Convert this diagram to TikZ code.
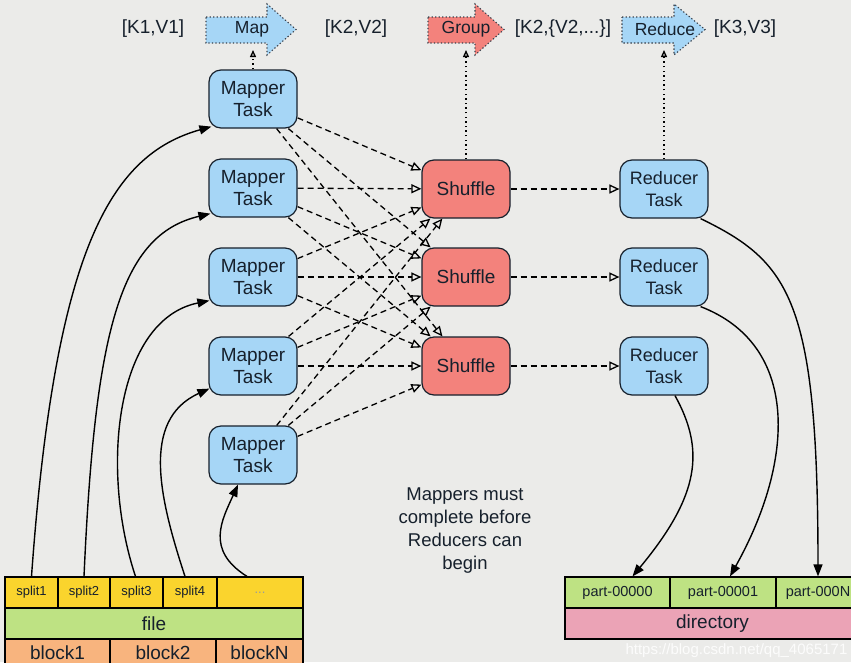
\documentclass[tikz,border=0pt]{standalone}
\usepackage{fontspec}
\setmainfont{Liberation Sans}
\usetikzlibrary{arrows.meta}

\definecolor{bg}{RGB}{235,235,233}
\definecolor{taskblue}{RGB}{166,214,246}
\definecolor{shufred}{RGB}{243,130,124}
\definecolor{ink}{RGB}{22,32,44}
\definecolor{splitgold}{RGB}{250,212,45}
\definecolor{filegreen}{RGB}{190,226,131}
\definecolor{blockpeach}{RGB}{248,180,126}
\definecolor{dirpink}{RGB}{235,163,182}

\tikzset{
  task/.style={draw=ink, line width=1.2pt, rounded corners=12pt,
    minimum width=88pt, minimum height=58pt, inner sep=0pt,
    align=center, text=ink, font=\fontsize{19}{22}\selectfont},
  mapper/.style={task, fill=taskblue},
  shuffle/.style={task, fill=shufred},
  reducer/.style={task, fill=taskblue, font=\fontsize{18}{22}\selectfont},
  cell/.style={draw=black, line width=1.2pt, inner sep=0pt,
    minimum height=31pt, text=ink},
  splitcell/.style={cell, fill=splitgold, font=\fontsize{13}{13}\selectfont},
  partcell/.style={cell, fill=filegreen, font=\fontsize{14.5}{14.5}\selectfont},
  bigcell/.style={cell, font=\fontsize{19}{19}\selectfont},
  kv/.style={text=ink, font=\fontsize{19}{19}\selectfont},
  phase/.style={draw=ink!85, line width=1.1pt, dash pattern=on 1.3pt off 2.2pt},
  phaselbl/.style={text=ink, font=\fontsize{17.5}{17.5}\selectfont},
  shuf/.style={line width=1.3pt, dash pattern=on 6pt off 4pt,
    -{Triangle[open, length=10pt, width=9pt]}},
  dotlink/.style={line width=1.3pt, dash pattern=on 1.4pt off 3.2pt,
    -{Triangle[open, length=7pt, width=6pt]}},
  feed/.style={line width=1.4pt, -{Triangle[length=12pt, width=9pt]}}
}

\begin{document}
\begin{tikzpicture}[x=1pt, y=1pt]
  \useasboundingbox (0,0) rectangle (851,-662);
  \clip (0,0) rectangle (851,-662);
  \fill[bg] (0,0) rectangle (851,-662);

  % phases along the top
  \draw[phase, fill=taskblue] (206,-17) -- (267,-17) -- (267,-4) -- (296,-29.5)
    -- (267,-55) -- (267,-43) -- (206,-43) -- cycle;
  \draw[phase, fill=shufred] (428,-17) -- (475,-17) -- (475,-4) -- (504,-29.5)
    -- (475,-55) -- (475,-43) -- (428,-43) -- cycle;
  \draw[phase, fill=taskblue] (622,-17) -- (674,-17) -- (674,-4) -- (705,-29.5)
    -- (674,-55) -- (674,-43) -- (622,-43) -- cycle;
  \node[phaselbl] (maplbl) at (252,-29) {Map};
  \node[phaselbl] (grouplbl) at (466,-29) {Group};
  \node[phaselbl] (reducelbl) at (665,-29) {Reduce};
  \node[kv] (kv1) at (153,-29) {[K1,V1]};
  \node[kv] (kv2) at (356,-29) {[K2,V2]};
  \node[kv] (kv3) at (563,-29) {[K2,\{V2,...\}]};
  \node[kv] (kv4) at (745,-29) {[K3,V3]};
  \coordinate (mapfoot) at (253,-50);
  \coordinate (groupfoot) at (466,-50);
  \coordinate (reducefoot) at (664,-50);

  % tasks
  \draw
    (253,-99) node[mapper] (m1) {Mapper\\Task}
    (253,-188) node[mapper] (m2) {Mapper\\Task}
    (253,-277) node[mapper] (m3) {Mapper\\Task}
    (253,-366) node[mapper] (m4) {Mapper\\Task}
    (253,-455) node[mapper] (m5) {Mapper\\Task}
    (466,-189) node[shuffle] (s1) {Shuffle}
    (466,-277) node[shuffle] (s2) {Shuffle}
    (466,-366) node[shuffle] (s3) {Shuffle}
    (664,-189) node[reducer] (r1) {Reducer\\Task}
    (664,-277) node[reducer] (r2) {Reducer\\Task}
    (664,-366) node[reducer] (r3) {Reducer\\Task};

  \node[text=ink, align=center, font=\fontsize{18.5}{23}\selectfont] (note) at (465,-531)
    {Mappers must\\complete before\\Reducers can\\begin};

  % input file
  \node[splitcell, minimum width=53pt] (sp1) at (31.5,-592.5) {split1};
  \node[splitcell, minimum width=52pt] (sp2) at (84,-592.5) {split2};
  \node[splitcell, minimum width=53pt] (sp3) at (136.5,-592.5) {split3};
  \node[splitcell, minimum width=54pt] (sp4) at (190,-592.5) {split4};
  \node[splitcell, minimum width=86pt, text=ink!45] (sp5) at (260,-592.5) {...};
  \node[bigcell, fill=filegreen, minimum width=298pt] (file) at (154,-623.5) {file};
  \node[bigcell, fill=blockpeach, minimum width=105pt, minimum height=27pt] (b1) at (57.5,-652.5) {block1};
  \node[bigcell, fill=blockpeach, minimum width=106pt, minimum height=27pt] (b2) at (163,-652.5) {block2};
  \node[bigcell, fill=blockpeach, minimum width=87pt, minimum height=27pt] (b3) at (259.5,-652.5) {blockN};

  % output directory
  \node[partcell, minimum width=105pt] (p1) at (617.5,-592.5) {part-00000};
  \node[partcell, minimum width=106pt] (p2) at (723,-592.5) {part-00001};
  \node[partcell, minimum width=84pt] (p3) at (818,-592.5) {part-000N};
  \node[bigcell, fill=dirpink, minimum width=295pt] (dir) at (712.5,-623.5) {directory};

  % links to the phases
  \draw[dotlink] (m1.north) -- (mapfoot);
  \draw[dotlink] (s1.north) -- (groupfoot);
  \draw[dotlink] (r1.north) -- (reducefoot);

  \begin{scope}[shuf]
    \draw (m1) to (s1);
    \draw (m1) to (s2);
    \draw (m1) to (s3);
    \draw (m2) to (s1);
    \draw (m2) to (s2);
    \draw (m2) to (s3);
    \draw (m3) to (s1);
    \draw (m3) to (s2);
    \draw (m3) to (s3);
    \draw (m4) to (s1);
    \draw (m4) to (s2);
    \draw (m4) to (s3);
    \draw (m5) to (s1);
    \draw (m5) to (s2);
    \draw (m5) to (s3);
    \draw (s1) to (r1);
    \draw (s2) to (r2);
    \draw (s3) to (r3);
  \end{scope}

  \begin{scope}[feed]
    \draw (sp1.north) .. controls (55,-250) and (110,-155) .. ([xshift=3pt,yshift=2pt]m1.south west);
    \draw (sp2.north) .. controls (95,-330) and (120,-235) .. ([xshift=2pt,yshift=4pt]m2.south west);
    \draw ([xshift=-1pt]sp3.north) .. controls (100,-470) and (115,-320) .. ([xshift=1pt,yshift=6pt]m3.south west);
    \draw ([xshift=-5pt]sp4.north) .. controls (160,-500) and (140,-420) .. ([xshift=1pt,yshift=7pt]m4.south west);
    \draw ([xshift=-13pt]sp5.north) .. controls (205,-550) and (222,-520) .. ([xshift=-15pt]m5.south);
    \draw ([xshift=-8pt]r1.south east) .. controls (790,-262) and (818,-300) .. (p3.north);
    \draw ([xshift=-8pt]r2.south east) .. controls (800,-345) and (795,-460) .. ([xshift=7pt]p2.north);
    \draw ([xshift=11pt]r3.south) .. controls (705,-450) and (700,-495) .. ([xshift=15pt]p1.north);
  \end{scope}

  \node[anchor=west, text=white, opacity=0.85, font=\fontsize{15}{15}\selectfont] (mark)
    at (622,-651) {https://blog.csdn.net/qq\_4065171};
\end{tikzpicture}
\end{document}
